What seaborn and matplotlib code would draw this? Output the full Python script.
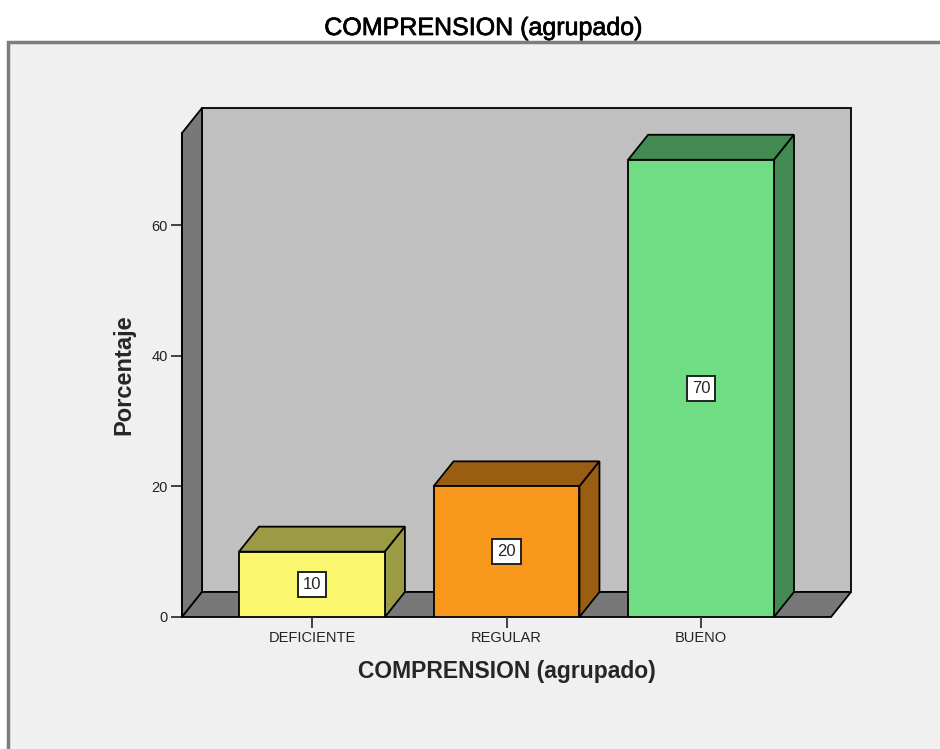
import matplotlib
matplotlib.use("Agg")
import matplotlib.pyplot as plt
import matplotlib.patheffects as pe
import seaborn as sns
from matplotlib.patches import Polygon, Rectangle

# data
categories = ["DEFICIENTE", "REGULAR", "BUENO"]
percentages = [10, 20, 70]
front_colors = ["#faf76f", "#f7981d", "#70dd84"]
shade_colors = ["#9b9a45", "#9a5e13", "#438a52"]
y_ticks = [0, 20, 40, 60]

sns.set_theme(style="white")
plt.rcParams["font.family"] = ["Liberation Sans", "DejaVu Sans"]

fig = plt.figure(figsize=(9.4, 7.49), dpi=100)
fig.patch.set_facecolor("white")

# light grey chart frame (SPSS style)
frame = Rectangle((8 / 940, -0.05), 1.2, 1 - 42 / 749 + 0.05, transform=fig.transFigure,
                  facecolor="#f0f0f0", edgecolor="#7d7d7d", linewidth=2.5, zorder=0)
fig.add_artist(frame)

ax = fig.add_axes([182 / 940, (749 - 617) / 749, 649 / 940, 484 / 749])
ax.set_facecolor("none")

bar_w = 0.75
x0, x1 = -0.668, 2.668
ymax = 74.1
dx, dy = 0.1028, 3.83   # depth of the 3d effect in data units
edge = dict(edgecolor="black", linewidth=1.3, clip_on=False)

# walls and floor
ax.add_patch(Rectangle((x0 + dx, dy), x1 - x0, ymax, facecolor="#c0c0c0", zorder=0.2, **edge))
ax.add_patch(Polygon([(x0, 0), (x0, ymax), (x0 + dx, ymax + dy), (x0 + dx, dy)],
                     facecolor="#787878", zorder=0.3, **edge))
ax.add_patch(Polygon([(x0, 0), (x1, 0), (x1 + dx, dy), (x0 + dx, dy)],
                     facecolor="#787878", zorder=0.3, **edge))

sns.barplot(x=categories, y=percentages, hue=categories, palette=front_colors,
            saturation=1, width=bar_w, edgecolor="black", linewidth=1.3,
            legend=False, ax=ax)
for p in ax.patches[3:]:
    p.set_zorder(2)

for i, (v, shade) in enumerate(zip(percentages, shade_colors)):
    left, right = i - bar_w / 2, i + bar_w / 2
    ax.add_patch(Polygon([(left, v), (right, v), (right + dx, v + dy), (left + dx, v + dy)],
                         facecolor=shade, zorder=1.5, **edge))
    ax.add_patch(Polygon([(right, 0), (right + dx, dy), (right + dx, v + dy), (right, v)],
                         facecolor=shade, zorder=1.5, **edge))
    ax.text(i, v / 2, str(v), ha="center", va="center", fontsize=12, zorder=5,
            bbox=dict(boxstyle="square,pad=0.3", facecolor="white", edgecolor="#222222", linewidth=1.4))

ax.set_xlim(x0, x1)
ax.set_ylim(0, ymax)
ax.set_yticks(y_ticks)
for s in ["top", "right", "bottom"]:
    ax.spines[s].set_visible(False)
ax.spines["left"].set_color("black")
ax.spines["left"].set_linewidth(1.3)
ax.tick_params(axis="both", which="both", direction="out", length=8, width=1.3,
               color="#333333", labelsize=10.5, labelcolor="#222222", pad=2,
               left=True, bottom=True)

ax.set_xlabel("COMPRENSION (agrupado)", fontsize=16.5, fontweight="bold", labelpad=11)
ax.set_ylabel("Porcentaje", fontsize=17, fontweight="bold", labelpad=12)
title = fig.text(0.514, 0.9626, "COMPRENSION (agrupado)", ha="center", va="center",
                 fontsize=18, color="black")
title.set_path_effects([pe.withStroke(linewidth=0.5, foreground="black")])

fig.savefig("out.png", dpi=100)
